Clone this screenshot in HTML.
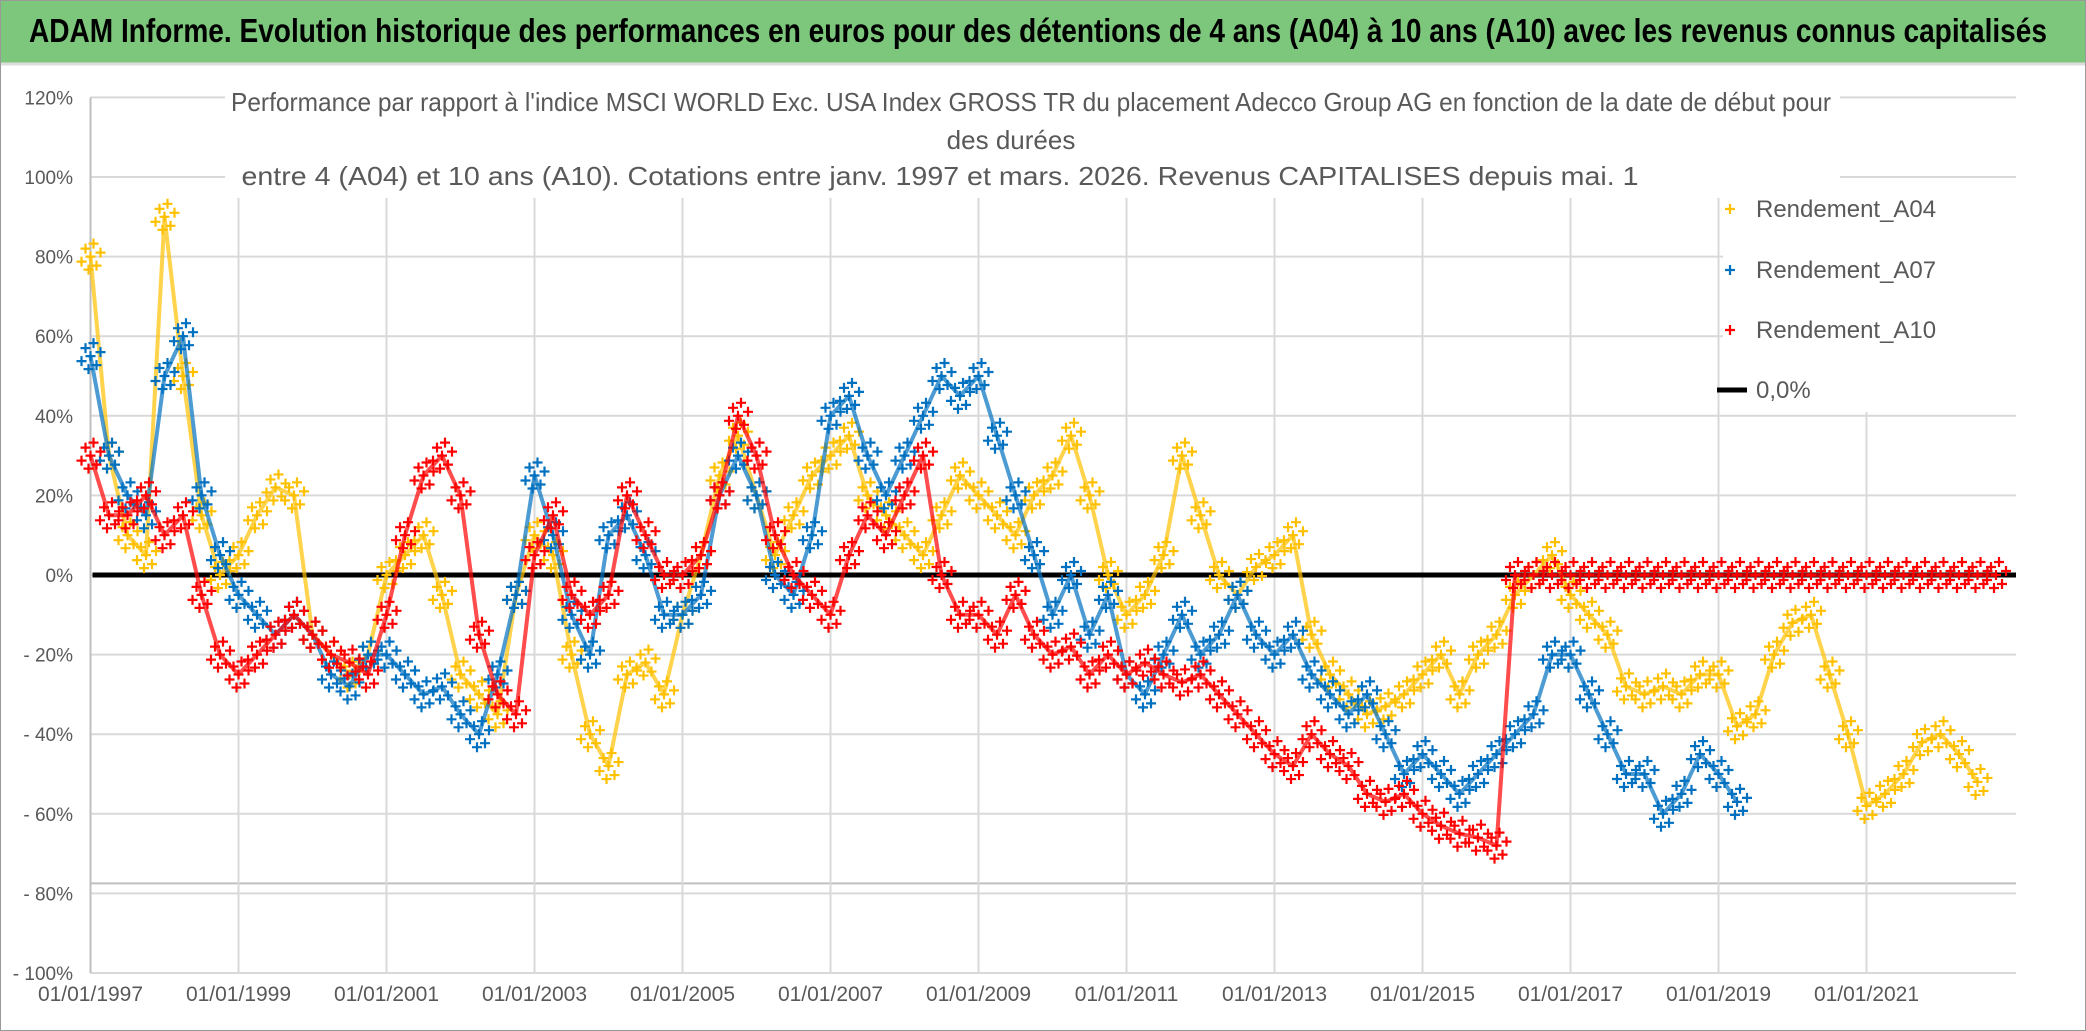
<!DOCTYPE html>
<html><head><meta charset="utf-8"><style>
html,body{margin:0;padding:0;background:#fff;}
svg{display:block;font-family:"Liberation Sans",sans-serif;}
</style></head><body>
<svg id="chart" width="2086" height="1031" viewBox="0 0 2086 1031">
<rect x="0.5" y="0.5" width="2085" height="1030" fill="#fff" stroke="#999"/>
<rect x="1" y="1" width="2084" height="62" fill="#7dc77d"/>
<line x1="1" y1="64" x2="2085" y2="64" stroke="#ddd" stroke-width="3"/>
<text x="29" y="42" font-size="33" font-weight="bold" fill="#000" textLength="2018" lengthAdjust="spacingAndGlyphs">ADAM Informe. Evolution historique des performances en euros pour des détentions de 4 ans (A04) à 10 ans (A10) avec les revenus connus capitalisés</text>
<g id="grid"></g>
<g id="series"></g>
<rect x="1723" y="182" width="300" height="230" fill="#fff"/>
<rect x="225" y="80" width="1615" height="115" fill="#fff"/>
<text x="1031" y="111" font-size="26" fill="#595959" text-anchor="middle" textLength="1600" lengthAdjust="spacingAndGlyphs">Performance par rapport à l'indice MSCI WORLD Exc. USA Index GROSS TR  du placement Adecco Group AG en fonction de la date de début pour</text>
<text x="1011" y="149" font-size="26" fill="#595959" text-anchor="middle">des durées</text>
<text x="940" y="185" font-size="26" fill="#595959" text-anchor="middle" textLength="1397" lengthAdjust="spacingAndGlyphs">entre 4 (A04) et 10 ans (A10). Cotations entre janv. 1997 et mars. 2026. Revenus CAPITALISES depuis mai. 1</text>
<g id="legend"></g>
</svg>
<script>
const yTicks=[120,100,80,60,40,20,0,-20,-40,-60,-80,-100];
const yTickLabels=["120%","100%","80%","60%","40%","20%","0%","- 20%","- 40%","- 60%","- 80%","- 100%"];
const xTickYears=[1997,1999,2001,2003,2005,2007,2009,2011,2013,2015,2017,2019,2021];
const xTickLabels=["01/01/1997","01/01/1999","01/01/2001","01/01/2003","01/01/2005","01/01/2007","01/01/2009","01/01/2011","01/01/2013","01/01/2015","01/01/2017","01/01/2019","01/01/2021"];
const startYear=1997;
const a04=[80,30,10,5, 90,50,15,0, 5,15,22,20, -15,-20,-25,-20, 0,5,10,-5, -25,-30,-35,-5, 10,5,-20,-40, -48,-25,-22,-30, -10,5,25,35, 20,5,15,25, 30,35,20,15, 10,5,15,25, 20,15,10,20, 25,35,20,0, -10,-5,5,30, 15,0,-5,2, 5,10,-15,-25, -30,-35,-33,-30, -25,-20,-30,-20, -15,-5,0,5, -5,-10,-15,-28, -30,-28,-30,-25, -25,-38,-35,-20, -12,-10,-25,-40, -58,-55,-50,-42, -40,-45,-52];
const a07=[55,30,20,15, 50,60,20,5, -5,-10,-15,-10, -15,-25,-28,-20, -20,-25,-30,-28, -35,-40,-25,-5, 25,10,-10,-20, 10,15,5,-10, -10,-5,20,30, 20,0,-5,10, 40,45,30,20, 30,40,50,45, 50,35,20,5, -10,0,-15,-5, -25,-30,-20,-10, -20,-15,-5,-15, -20,-15,-25,-30, -35,-30,-40,-50, -45,-50,-55,-50, -45,-40,-35,-20, -20,-30,-40,-50, -50,-60,-55,-45, -50,-57];
const a10=[30,15,15,20, 10,15,-5,-20, -25,-20,-15,-10, -15,-20,-22,-25, -10,10,25,30, 20,-15,-30,-35, 5,15,-5,-10, -5,20,10,0, 0,5,20,40, 30,10,0,-5, -10,5,15,10, 20,30,0,-10, -10,-15,-5,-15, -20,-18,-25,-20, -25,-22,-25,-27, -25,-30,-35,-40, -45,-48,-40,-45, -48,-55,-57,-55, -60,-63,-65,-66, -68,0,0,0, 0,0,0,0, 0,0,0,0, 0,0,0,0, 0,0,0,0, 0,0,0,0, 0,0,0,0];
const seriesNames=["Rendement_A04","Rendement_A07","Rendement_A10"];
const NS="http://www.w3.org/2000/svg";
const X0=90.5,PX_YR=74.0,Y0=575,PX_PCT=3.98,XR=2016;
function xs(yr){return X0+(yr-startYear)*PX_YR;}
function ys(v){return Y0-v*PX_PCT;}
function mk(tag,attrs,parent){const e=document.createElementNS(NS,tag);for(const k in attrs)e.setAttribute(k,attrs[k]);parent.appendChild(e);return e;}
const grid=document.getElementById('grid');
yTicks.forEach((v,i)=>{
  const l=mk('line',{x1:X0,x2:XR,y1:ys(v),y2:ys(v),stroke:'#d9d9d9','stroke-width':2},grid);
  
  
  const t=mk('text',{x:73,y:ys(v)+7,'font-size':19,fill:'#595959','text-anchor':'end'},grid);
  t.textContent=yTickLabels[i];
  
  
});
const dl=mk('line',{x1:X0,x2:XR,y1:ys(-80)-10,y2:ys(-80)-10,stroke:'#bfbfbf','stroke-width':2},grid);


xTickYears.forEach((yr,i)=>{
  const l=mk('line',{x1:xs(yr),x2:xs(yr),y1:yr===1997?ys(120):198,y2:ys(-100),stroke:yr===1997?'#bfbfbf':'#d9d9d9','stroke-width':2},grid);
  
  
  const t=mk('text',{x:xs(yr),y:1001,'font-size':21,fill:'#595959','text-anchor':'middle'},grid);
  t.textContent=xTickLabels[i];
  
  
});
const sg=document.getElementById('series');
function plus(g,x,y,c,s){
  const p=mk('path',{d:`M${x-s} ${y}H${x+s}M${x} ${y-s}V${y+s}`,stroke:c,'stroke-width':2.2},g);
  
  
}
const offs=[[0,0],[6,9],[-5,-8],[10,-4],[-9,5],[3,-13],[-2,13]];
function drawSeries(arr,color,name){
  const g=mk('g',{},sg);
  
  
  const pts=arr.map((v,i)=>xs(startYear+i*0.25)+','+ys(v)).join(' ');
  mk('polyline',{points:pts,fill:'none',stroke:color,'stroke-width':4,'stroke-opacity':0.7,'stroke-linejoin':'round'},g);
  arr.forEach((v,i)=>{const x=xs(startYear+i*0.25),y=ys(v);offs.forEach(o=>plus(g,x+o[0],y+o[1],color,5));});
}
const zl=mk('line',{x1:X0+2,x2:XR,y1:Y0,y2:Y0,stroke:'#000','stroke-width':5},sg);


drawSeries(a04,'#FFC000','series-a04');
drawSeries(a07,'#0070C0','series-a07');
drawSeries(a10,'#FF0000','series-a10');
const lg=document.getElementById('legend');
const legColors=['#FFC000','#0070C0','#FF0000'];
const legY=[209,270,330];
seriesNames.forEach((n,i)=>{
  const g=mk('g',{},lg);
  
  
  plus(g,1730,legY[i],legColors[i],5);
  const t=mk('text',{x:1756,y:legY[i]+8,'font-size':24,fill:'#595959'},g);
  t.textContent=n;
});
const g0=mk('g',{},lg);


mk('line',{x1:1717,x2:1747,y1:390,y2:390,stroke:'#000','stroke-width':5},g0);
const t0=mk('text',{x:1756,y:398,'font-size':24,fill:'#595959'},g0);
t0.textContent='0,0%';
</script>
</body></html>
